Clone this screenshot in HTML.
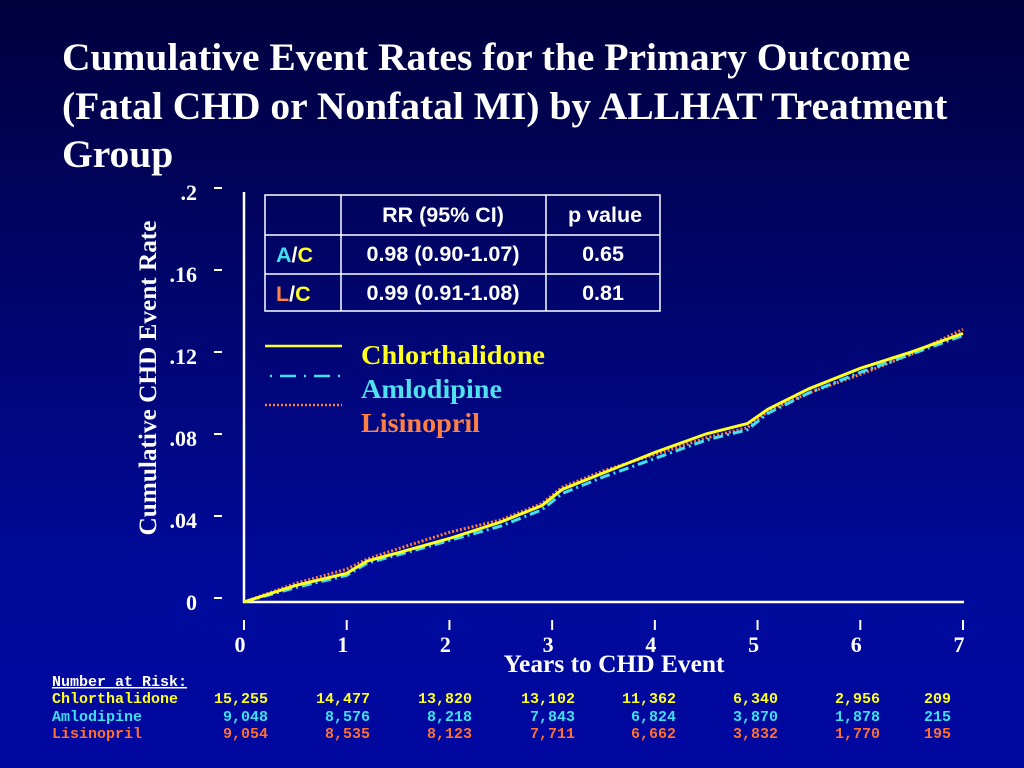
<!DOCTYPE html>
<html><head><meta charset="utf-8"><style>
html,body{margin:0;padding:0}
body{width:1024px;height:768px;overflow:hidden;background:linear-gradient(#00003c,#000a9a 75%,#0008a0);position:relative;font-family:"Liberation Serif",serif}
#title{position:absolute;left:62px;top:33px;color:#fff;font-weight:bold;font-size:39.5px;line-height:48.5px;margin:0;white-space:nowrap}
svg{position:absolute;left:0;top:0}
</style></head><body>
<h1 id="title">Cumulative Event Rates for the Primary Outcome<br>(Fatal CHD or Nonfatal MI) by ALLHAT Treatment<br>Group</h1>
<svg id="chart" width="1024" height="768"></svg>
<script>
const years=[0,0.5,1,1.2,1.5,2,2.5,2.9,3.1,3.5,4,4.5,4.9,5.1,5.5,6,6.5,7];
const chlor=[0,.008,.014,.020,.024,.031,.039,.047,.055,.063,.073,.082,.087,.094,.104,.114,.122,.131];
const amlo=[0,.007,.013,.019,.023,.030,.037,.045,.053,.061,.070,.079,.084,.092,.102,.112,.121,.130];
const lisi=[0,.009,.016,.021,.026,.034,.040,.048,.056,.064,.072,.080,.085,.093,.102,.111,.121,.133];
const yTicks=[0,.04,.08,.12,.16,.2];
const yTickLabels=["0",".04",".08",".12",".16",".2"];
const xTicks=[0,1,2,3,4,5,6,7];
const riskNames=["Chlorthalidone","Amlodipine","Lisinopril"];
const riskC=["15,255","14,477","13,820","13,102","11,362","6,340","2,956","209"];
const riskA=["9,048","8,576","8,218","7,843","6,824","3,870","1,878","215"];
const riskL=["9,054","8,535","8,123","7,711","6,662","3,832","1,770","195"];

const NS="http://www.w3.org/2000/svg";
const svg=document.getElementById('chart');
const X=v=>244+v*(963-244)/7;
const Y=v=>602-v*2050;
function mk(t,a,txt){const e=document.createElementNS(NS,t);for(const k in a)e.setAttribute(k,a[k]);if(txt!==undefined)e.textContent=txt;svg.appendChild(e);return e;}
let e;
e=mk('line',{x1:244,y1:192,x2:244,y2:603,stroke:'#fff','stroke-width':2.5});


e=mk('line',{x1:243,y1:602,x2:964,y2:602,stroke:'#fff','stroke-width':2.5});


yTicks.forEach((v,i)=>{
 e=mk('line',{x1:214,x2:222,y1:Y(v)-4,y2:Y(v)-4,stroke:'#fff','stroke-width':2});
 
 
 e=mk('text',{x:197,y:Y(v)+8,fill:'#fff','font-size':22,'font-weight':'bold','text-anchor':'end','font-family':'Liberation Serif'},yTickLabels[i]);
 
 
});
xTicks.forEach(v=>{
 e=mk('line',{x1:X(v),x2:X(v),y1:620,y2:630,stroke:'#fff','stroke-width':2});
 
 
 e=mk('text',{x:X(v)-4,y:652,fill:'#fff','font-size':22,'font-weight':'bold','text-anchor':'middle','font-family':'Liberation Serif'},String(v));
 
 
});
e=mk('text',{x:614,y:672,fill:'#fff','font-size':25,'font-weight':'bold','text-anchor':'middle','font-family':'Liberation Serif','textLength':221,'lengthAdjust':'spacingAndGlyphs'},'Years to CHD Event');


e=mk('text',{x:0,y:0,fill:'#fff','font-size':25,'font-weight':'bold','text-anchor':'middle','font-family':'Liberation Serif','textLength':315,'lengthAdjust':'spacingAndGlyphs',transform:'translate(156,378) rotate(-90)'},'Cumulative CHD Event Rate');


function series(vals,color,dash,name){
 const d=years.map((t,i)=>(i?'L':'M')+X(t).toFixed(1)+','+Y(vals[i]).toFixed(1)).join('');
 const p=mk('path',{d:d,fill:'none',stroke:color,'stroke-width':3,'stroke-dasharray':dash});
 
 
}
series(lisi,'#ff7a3a','2 2','lisinopril-line');
series(amlo,'#40e0f0','10 4 2 4','amlodipine-line');
series(chlor,'#ffff20','','chlorthalidone-line');
// legend
e=mk('line',{x1:265,x2:342,y1:346,y2:346,stroke:'#ffff20','stroke-width':2.5});


e=mk('line',{x1:270,x2:342,y1:376,y2:376,stroke:'#40e0f0','stroke-width':2.5,'stroke-dasharray':'2 8 16 8'});


e=mk('line',{x1:265,x2:342,y1:405,y2:405,stroke:'#ff7a3a','stroke-width':2.5,'stroke-dasharray':'2 2'});


[['Chlorthalidone','#ffff20',364,184],['Amlodipine','#50e0f0',398,141],['Lisinopril','#ff8040',432,119]].forEach(l=>{
 e=mk('text',{x:361,y:l[2],fill:l[1],'font-size':27,'font-weight':'bold','font-family':'Liberation Serif','textLength':l[3],'lengthAdjust':'spacingAndGlyphs'},l[0]);
 
 
});
// stats table
e=mk('rect',{x:265,y:195,width:395,height:116,fill:'none',stroke:'#fff','stroke-width':1.5});


[341,546].forEach(x=>{e=mk('line',{x1:x,x2:x,y1:195,y2:311,stroke:'#fff','stroke-width':1.5});});
[235,274].forEach(y=>{e=mk('line',{x1:265,x2:660,y1:y,y2:y,stroke:'#fff','stroke-width':1.5});});
const cells=[['RR (95% CI)',443,222],['p value',605,222],['0.98 (0.90-1.07)',443,261],['0.65',603,261],['0.99 (0.91-1.08)',443,300],['0.81',603,300]];
cells.forEach(c=>{e=mk('text',{x:c[1],y:c[2],fill:'#fff','font-size':21.5,'font-weight':'bold','text-anchor':'middle','font-family':'Liberation Sans'},c[0]);});
[[262,'A','#40e0f0'],[301,'L','#ff8040']].forEach(r=>{
 const t=mk('text',{x:276,y:r[0],'font-size':21.5,'font-weight':'bold','font-family':'Liberation Sans'});
 
 
 t.innerHTML='<tspan fill="'+r[2]+'">'+r[1]+'</tspan><tspan fill="#fff">/</tspan><tspan fill="#ffff20">C</tspan>';
});
// number at risk
e=mk('text',{x:52,y:686,fill:'#fff','font-size':15,'font-weight':'bold','font-family':'Liberation Mono','text-decoration':'underline'},'Number at Risk:');


const colX=[268,370,472,575,676,778,880,951];
[[riskC,'#ffff20',703],[riskA,'#40e0f0',721],[riskL,'#ff7030',738]].forEach((r,i)=>{
 e=mk('text',{x:52,y:r[2],fill:r[1],'font-size':15,'font-weight':'bold','font-family':'Liberation Mono'},riskNames[i]);
 
 
 r[0].forEach((v,j)=>{
  e=mk('text',{x:colX[j],y:r[2],fill:r[1],'font-size':15,'font-weight':'bold','font-family':'Liberation Mono','text-anchor':'end'},v);
  
  
 });
});
</script>
</body></html>
